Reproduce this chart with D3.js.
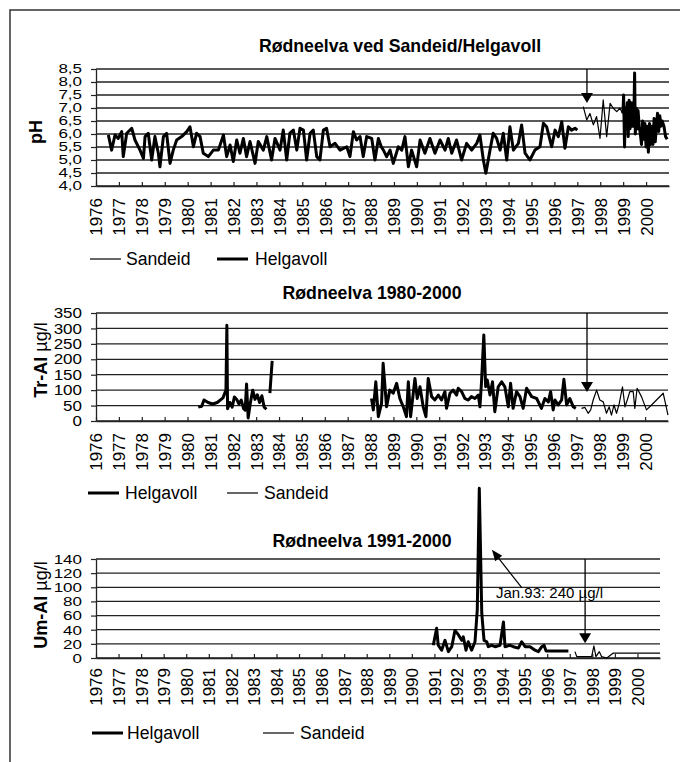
<!DOCTYPE html>
<html>
<head>
<meta charset="utf-8">
<script src="https://cdn.jsdelivr.net/npm/d3@7"></script>
<style>
  body { margin: 0; background: #fff; }
  svg { display: block; font-family: "Liberation Sans", Arial, sans-serif; }
</style>
</head>
<body>
<div id="chart"></div>
<script>
// tick labels
const years = [1976,1977,1978,1979,1980,1981,1982,1983,1984,1985,1986,1987,1988,
  1989,1990,1991,1992,1993,1994,1995,1996,1997,1998,1999,2000];
const phTicks = [4.0,4.5,5.0,5.5,6.0,6.5,7.0,7.5,8.0,8.5];
const trTicks = [0,50,100,150,200,250,300,350];
const umTicks = [0,20,40,60,80,100,120,140];

// pH, [year, value]; null = gap in the series
const helgavollPH = [
  [1976.54,5.96],[1976.68,5.38],[1976.83,5.96],[1976.97,5.83],[1977.12,6.09],[1977.19,5.13],
  [1977.34,6.03],[1977.56,6.22],[1977.70,5.77],[1977.92,5.38],[1978.07,5.06],[1978.14,5.90],
  [1978.28,6.03],[1978.43,5.00],[1978.57,5.90],[1978.72,5.26],[1978.79,4.74],[1978.94,5.90],
  [1979.08,6.03],[1979.23,4.87],[1979.37,5.38],[1979.52,5.77],[1979.74,5.90],[1979.96,6.09],
  [1980.10,6.28],[1980.25,5.51],[1980.39,6.03],[1980.54,5.90],[1980.68,5.26],[1980.90,5.13],
  [1981.12,5.38],[1981.34,5.38],[1981.56,5.96],[1981.70,5.13],[1981.85,5.58],[1981.99,4.94],
  [1982.14,5.77],[1982.28,5.26],[1982.43,5.83],[1982.57,5.13],[1982.72,5.71],[1982.94,4.87],
  [1983.08,5.71],[1983.30,5.38],[1983.45,5.90],[1983.66,5.00],[1983.81,5.83],[1984.03,5.38],
  [1984.17,6.15],[1984.32,5.00],[1984.46,6.03],[1984.61,6.15],[1984.76,5.38],[1984.90,6.22],
  [1985.05,6.15],[1985.19,5.00],[1985.34,6.03],[1985.48,6.15],[1985.63,5.13],[1985.77,5.00],
  [1985.92,6.15],[1986.06,6.22],[1986.21,5.51],[1986.43,5.64],[1986.65,5.38],[1986.94,5.51],
  [1987.08,5.13],[1987.23,6.09],[1987.37,5.77],[1987.52,5.90],[1987.66,5.13],[1987.81,5.90],
  [1988.03,5.83],[1988.17,5.00],[1988.32,5.83],[1988.45,5.50],[1988.54,5.38],[1988.68,5.13],
  [1988.83,5.38],[1988.97,4.87],[1989.19,5.51],[1989.34,5.38],[1989.48,5.90],[1989.63,4.74],
  [1989.77,5.38],[1989.99,4.74],[1990.14,5.77],[1990.35,5.26],[1990.57,5.83],[1990.79,5.26],
  [1991.01,5.77],[1991.23,5.38],[1991.37,5.83],[1991.52,5.26],[1991.73,5.77],[1991.95,5.00],
  [1992.17,5.64],[1992.39,5.38],[1992.61,5.64],[1992.75,5.96],[1992.90,5.00],[1993.01,4.49],
  [1993.19,5.38],[1993.33,6.03],[1993.48,5.83],[1993.63,5.38],[1993.77,6.03],[1993.92,5.00],
  [1994.06,6.28],[1994.21,5.38],[1994.43,5.64],[1994.57,6.35],[1994.72,5.26],[1994.93,5.00],
  [1995.15,5.38],[1995.37,5.51],[1995.52,6.41],[1995.66,6.28],[1995.88,5.51],[1996.03,6.15],
  [1996.17,5.90],[1996.32,6.47],[1996.46,5.45],[1996.61,6.28],[1996.75,6.15],[1996.90,6.22],
  [1997.00,6.15],
  [1998.99,null],
  [1998.99,6.80],[1999.02,7.50],[1999.06,5.50],[1999.10,7.00],[1999.14,6.20],[1999.18,7.20],
  [1999.22,5.90],[1999.26,7.30],[1999.30,6.20],[1999.34,7.20],[1999.38,6.30],[1999.42,7.20],
  [1999.46,6.30],[1999.50,8.35],[1999.53,6.00],[1999.57,7.00],[1999.61,6.20],[1999.65,6.90],
  [1999.70,6.30],[1999.75,6.00],[1999.80,5.60],[1999.85,6.50],[1999.90,5.80],[1999.95,6.40],
  [2000.00,5.50],[2000.05,6.30],[2000.10,5.30],[2000.15,6.40],[2000.20,5.60],[2000.25,6.30],
  [2000.30,5.60],[2000.35,6.60],[2000.40,5.70],[2000.45,6.30],[2000.50,6.80],[2000.55,6.10],
  [2000.60,6.70],[2000.65,6.30],[2000.70,6.50],[2000.78,6.30],[2000.85,5.90],[2000.92,5.80]
];
const sandeidPH = [
  [1997.26,7.05],[1997.41,6.54],[1997.55,6.79],[1997.70,6.35],[1997.84,6.67],[1997.99,5.83],
  [1998.13,7.31],[1998.28,5.90],[1998.43,7.18],[1998.57,6.99],[1998.72,6.86],[1998.86,6.99],
  [1998.98,6.79]
];

// total aluminium, µg/l
const helgavollTrAl = [
  [1980.47,45],[1980.62,48],[1980.72,68],[1980.90,60],[1981.10,55],[1981.30,60],[1981.55,75],
  [1981.68,100],[1981.72,310],[1981.75,40],[1981.85,60],[1981.95,45],[1982.05,78],[1982.15,70],
  [1982.25,55],[1982.35,68],[1982.45,40],[1982.52,35],[1982.58,120],[1982.65,10],[1982.75,60],
  [1982.85,100],[1982.95,70],[1983.05,85],[1983.15,60],[1983.25,82],[1983.35,45],[1983.45,38],
  [1983.52,null],
  [1983.60,90],[1983.70,195],
  [1983.80,null],
  [1988.04,73],[1988.12,36],[1988.23,127],[1988.34,14],[1988.48,57],[1988.55,187],[1988.70,46],
  [1988.84,100],[1988.99,90],[1989.14,122],[1989.28,73],[1989.43,46],[1989.57,14],[1989.65,127],
  [1989.75,14],[1989.94,138],[1990.04,73],[1990.16,111],[1990.30,46],[1990.42,14],[1990.52,138],
  [1990.67,79],[1990.81,68],[1990.96,84],[1991.10,68],[1991.25,95],[1991.32,41],[1991.47,90],
  [1991.61,100],[1991.76,84],[1991.83,106],[1991.98,95],[1992.12,73],[1992.27,68],[1992.41,79],
  [1992.56,73],[1992.71,84],[1992.78,46],[1992.85,127],[1992.95,279],[1993.03,111],[1993.10,133],
  [1993.22,84],[1993.33,127],[1993.43,30],[1993.58,111],[1993.73,127],[1993.87,111],[1994.02,46],
  [1994.12,122],[1994.23,41],[1994.38,95],[1994.53,79],[1994.67,41],[1994.82,106],[1995.04,79],
  [1995.26,73],[1995.47,41],[1995.62,73],[1995.77,62],[1995.87,95],[1995.98,36],[1996.06,68],
  [1996.20,52],[1996.35,68],[1996.45,135],[1996.57,52],[1996.71,73],[1996.86,46],[1996.97,41]
];
const sandeidTrAl = [
  [1997.22,41],[1997.37,44],[1997.51,25],[1997.62,36],[1997.73,68],[1997.88,100],[1998.02,68],
  [1998.17,62],[1998.31,25],[1998.43,46],[1998.53,19],[1998.64,52],[1998.75,25],[1998.87,57],
  [1999.01,111],[1999.12,46],[1999.22,68],[1999.33,95],[1999.48,95],[1999.55,41],[1999.65,106],
  [1999.84,79],[2000.06,36],[2000.28,52],[2000.79,90],[2001.00,19]
];

// inorganic (labile) aluminium, µg/l
const helgavollUmAl = [
  [1990.95,18],[1991.10,42],[1991.17,18],[1991.32,11],[1991.47,25],[1991.62,9],[1991.77,16],
  [1991.91,39],[1992.06,33],[1992.21,25],[1992.28,30],[1992.40,11],[1992.50,23],[1992.65,11],
  [1992.80,23],[1992.90,68],[1992.99,240],[1993.10,63],[1993.20,25],[1993.32,23],[1993.39,16],
  [1993.54,18],[1993.69,16],[1993.91,18],[1994.06,51],[1994.13,16],[1994.35,18],[1994.50,16],
  [1994.72,14],[1994.87,23],[1995.02,16],[1995.24,16],[1995.46,11],[1995.61,9],[1995.76,16],
  [1995.86,18],[1995.95,10],[1996.42,10],[1996.94,10]
];
const sandeidUmAl = [
  [1997.23,9],[1997.31,2],[1997.60,2],[1997.97,2],[1998.07,17],[1998.16,2],[1998.31,9],
  [1998.41,2],[1998.64,0],[1998.93,7],[2001.00,7]
];

const titles = ["Rødneelva ved Sandeid/Helgavoll", "Rødneelva 1980-2000", "Rødneelva 1991-2000"];
const note = "Jan.93: 240 µg/l";

const width = 680, height = 762;
const svg = d3.select("#chart").append("svg")
  .attr("width", width)
  .attr("height", height);

// page frame (top and left edge only visible)
svg.append("path")
  .attr("d", "M10,762 V10 H680")
  .attr("fill", "none")
  .attr("stroke", "#333")
  .attr("stroke-width", 1.5);

const commaFmt = d => d3.format(".1f")(d).replace(".", ",");

const panels = [
  {
    title: titles[0], titleX: 400, titleY: 52,
    yTitle: "pH", unit: null, yTitleX: 42, yTitleY: 132,
    x0: 96, x1: 669, yTop: 69, yBottom: 186, yTicks: phTicks, fmt: commaFmt, squash: 0.7,
    labelOffset: 12,
    series: [
      { data: helgavollPH, w: 3 },
      { data: sandeidPH, w: 1.2 }
    ],
    arrow: { year: 1997.42, tip: 7.19 },
    legendY: 259,
    legend: [
      { name: "Sandeid", w: 1.2, lx: 90, tx: 126 },
      { name: "Helgavoll", w: 3, lx: 217, tx: 255 }
    ]
  },
  {
    title: titles[1], titleX: 372, titleY: 299,
    yTitle: "Tr-Al", unit: "µg/l", yTitleX: 47, yTitleY: 360,
    x0: 96, x1: 668, yTop: 313, yBottom: 421, yTicks: trTicks, fmt: d3.format("d"), squash: 0.85,
    labelOffset: 12,
    series: [
      { data: helgavollTrAl, w: 3 },
      { data: sandeidTrAl, w: 1.2 }
    ],
    arrow: { year: 1997.46, tip: 94 },
    legendY: 493,
    legend: [
      { name: "Helgavoll", w: 3, lx: 88, tx: 125 },
      { name: "Sandeid", w: 1.2, lx: 227, tx: 264 }
    ]
  },
  {
    title: titles[2], titleX: 362, titleY: 547,
    yTitle: "Um-Al", unit: "µg/l", yTitleX: 47, yTitleY: 605,
    x0: 96, x1: 660, yTop: 559, yBottom: 658, yTicks: umTicks, fmt: d3.format("d"), squash: 0.8,
    labelOffset: 10,
    series: [
      { data: helgavollUmAl, w: 3 },
      { data: sandeidUmAl, w: 1.2 }
    ],
    arrow: { year: 1997.68, tip: 21 },
    note: { text: note, year: 1993.73, value: 85, from: [1994.88, 99], to: [1993.55, 153] },
    legendY: 733,
    legend: [
      { name: "Helgavoll", w: 3, lx: 92, tx: 127 },
      { name: "Sandeid", w: 1.2, lx: 263, tx: 300 }
    ]
  }
];

panels.forEach(p => {
  const g = svg.append("g");
  const x = d3.scaleLinear().domain([1976, 2001]).range([p.x0, p.x1]);
  const y = d3.scaleLinear()
    .domain([p.yTicks[0], p.yTicks[p.yTicks.length - 1]])
    .range([p.yBottom, p.yTop]);

  // horizontal gridlines
  g.append("g").selectAll("line")
    .data(p.yTicks)
    .join("line")
    .attr("x1", p.x0).attr("x2", p.x1)
    .attr("y1", d => y(d)).attr("y2", d => y(d))
    .attr("stroke", "#222")
    .attr("stroke-width", 1.3);

  // y axis
  const ya = g.append("g")
    .attr("transform", `translate(${p.x0},0)`)
    .call(d3.axisLeft(y).tickValues(p.yTicks).tickFormat(p.fmt)
      .tickSizeInner(5).tickSizeOuter(0).tickPadding(9));
  ya.select(".domain").attr("stroke", "#222").attr("stroke-width", 1.3);
  ya.selectAll(".tick line").attr("stroke", "#222").attr("stroke-width", 1.2);
  ya.selectAll(".tick text")
    .attr("font-size", 17)
    .attr("font-family", "Liberation Sans, Arial, sans-serif")
    .attr("fill", "#000")
    .attr("transform", `scale(1,${p.squash})`);

  // x axis
  const xa = g.append("g")
    .attr("transform", `translate(0,${p.yBottom})`)
    .call(d3.axisBottom(x).tickValues(years).tickFormat(d3.format("d"))
      .tickSizeInner(-4).tickSizeOuter(0));
  xa.select(".domain").attr("stroke", "#222").attr("stroke-width", 1.3);
  xa.selectAll(".tick line").attr("stroke", "#222").attr("stroke-width", 1.2);
  xa.selectAll(".tick text")
    .attr("font-size", 17)
    .attr("font-family", "Liberation Sans, Arial, sans-serif")
    .attr("fill", "#000")
    .attr("transform", "rotate(-90)")
    .attr("x", -p.labelOffset)
    .attr("y", 0)
    .attr("dy", "0.35em")
    .style("text-anchor", "end");

  // data lines
  const line = d3.line()
    .defined(d => d[1] != null)
    .x(d => x(d[0]))
    .y(d => y(d[1]));

  p.series.forEach(s => {
    g.append("path")
      .datum(s.data)
      .attr("fill", "none")
      .attr("stroke", "#000")
      .attr("stroke-width", s.w)
      .attr("stroke-linejoin", "round")
      .attr("d", line);
  });

  // station change arrow
  const ax = x(p.arrow.year);
  const tipY = y(p.arrow.tip);
  g.append("line")
    .attr("x1", ax).attr("x2", ax)
    .attr("y1", p.yTop).attr("y2", tipY - 9)
    .attr("stroke", "#000").attr("stroke-width", 1.3);
  g.append("path")
    .attr("d", `M${ax - 6},${tipY - 10} L${ax + 6},${tipY - 10} L${ax},${tipY} Z`)
    .attr("fill", "#000");

  // annotation with pointer
  if (p.note) {
    const n = p.note;
    const fx = x(n.from[0]), fy = y(n.from[1]);
    const tx = x(n.to[0]), ty = y(n.to[1]);
    const ang = Math.atan2(ty - fy, tx - fx);
    const len = 11, half = 4.5;
    const bx = tx - len * Math.cos(ang), by = ty - len * Math.sin(ang);
    g.append("line")
      .attr("x1", fx).attr("y1", fy).attr("x2", bx).attr("y2", by)
      .attr("stroke", "#000").attr("stroke-width", 1.2);
    g.append("path")
      .attr("d", `M${tx},${ty} L${bx - half * Math.sin(ang)},${by + half * Math.cos(ang)} ` +
                 `L${bx + half * Math.sin(ang)},${by - half * Math.cos(ang)} Z`)
      .attr("fill", "#000");
    g.append("text")
      .attr("x", x(n.year))
      .attr("y", y(n.value))
      .attr("font-size", 15)
      .attr("fill", "#000")
      .text(n.text);
  }

  // title
  g.append("text")
    .attr("x", p.titleX)
    .attr("y", p.titleY)
    .attr("text-anchor", "middle")
    .attr("font-size", 17.7)
    .attr("font-weight", "bold")
    .text(p.title);

  // y-axis title
  const yt = g.append("text")
    .attr("transform", `translate(${p.yTitleX},${p.yTitleY}) rotate(-90)`)
    .attr("text-anchor", "middle")
    .attr("font-size", 18)
    .attr("font-weight", "bold");
  yt.append("tspan").text(p.yTitle);
  if (p.unit) {
    yt.append("tspan").attr("font-weight", "normal").text(" " + p.unit);
  }

  // legend
  p.legend.forEach(l => {
    g.append("line")
      .attr("x1", l.lx).attr("x2", l.lx + 31)
      .attr("y1", p.legendY).attr("y2", p.legendY)
      .attr("stroke", "#000")
      .attr("stroke-width", l.w);
    g.append("text")
      .attr("x", l.tx)
      .attr("y", p.legendY + 6)
      .attr("font-size", 17.6)
      .text(l.name);
  });
});
</script>
</body>
</html>
